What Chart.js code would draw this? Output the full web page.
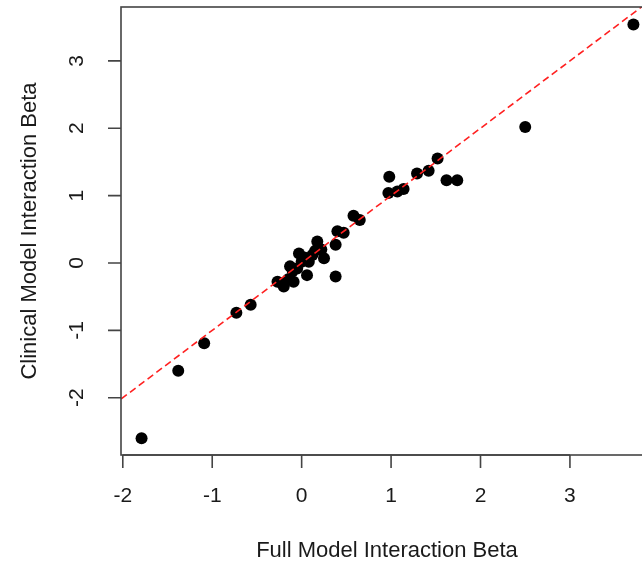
<!DOCTYPE html>
<html>
<head>
<meta charset="utf-8">
<script src="https://cdn.jsdelivr.net/npm/chart.js@4/dist/chart.umd.min.js"></script>
<style>
html, body { margin: 0; padding: 0; overflow: hidden; background: #fff; }
canvas { display: block; }
</style>
</head>
<body>
<canvas id="beta_chart" width="660" height="569"></canvas>
<script>
// Values
var fullBeta     = [-1.79, -1.38, -1.09, -0.73, -0.57, -0.27, -0.20, -0.22, -0.09, -0.13, -0.10, -0.15, -0.03, 0.00, -0.05, 0.06, 0.08, 0.03, 0.12, 0.175, 0.15, 0.25, 0.22, 0.38, 0.38, 0.40, 0.47, 0.58, 0.65, 0.97, 1.07, 1.14, 0.98, 1.29, 1.42, 1.52, 1.62, 1.74, 2.50, 3.71];
var clinicalBeta = [-2.60, -1.60, -1.19, -0.74, -0.62, -0.28, -0.35, -0.30, -0.28, -0.05, -0.12, -0.24, 0.14, 0.02, -0.08, -0.18, 0.02, 0.08, 0.12, 0.32, 0.18, 0.07, 0.20, -0.20, 0.27, 0.47, 0.45, 0.70, 0.64, 1.04, 1.06, 1.10, 1.28, 1.33, 1.37, 1.55, 1.23, 1.23, 2.02, 3.54];
var xTicks = [-2, -1, 0, 1, 2, 3];
var yTicks = [-2, -1, 0, 1, 2, 3];
var identityLine = [-3, 5];   // y = x reference line, clipped to the plot box

var FONT = '"Liberation Sans", Arial, sans-serif';

var points = fullBeta.map(function( x, i ) { return { x: x, y: clinicalBeta[i] }; });

// R-style box, tick marks and axis texts
var baseAxes = {
	id: 'baseAxes',
	afterDraw: function( chart ) {
		var ctx = chart.ctx, area = chart.chartArea;
		var sx = chart.scales.x, sy = chart.scales.y;
		var tick = 13;
		ctx.save();
		ctx.strokeStyle = '#444';
		ctx.lineWidth = 1.6;
		ctx.strokeRect( area.left, area.top, area.right - area.left, area.bottom - area.top );

		ctx.fillStyle = '#1a1a1a';
		ctx.font = '21px ' + FONT;
		ctx.textAlign = 'center';
		ctx.textBaseline = 'middle';

		// x axis
		ctx.beginPath();
		ctx.moveTo( sx.getPixelForValue( xTicks[0] ), area.bottom );
		ctx.lineTo( sx.getPixelForValue( xTicks[xTicks.length - 1] ), area.bottom );
		xTicks.forEach( function( v ) {
			var px = sx.getPixelForValue( v );
			ctx.moveTo( px, area.bottom );
			ctx.lineTo( px, area.bottom + tick );
		} );
		ctx.stroke();
		xTicks.forEach( function( v ) {
			ctx.fillText( String( v ), sx.getPixelForValue( v ), 496 );
		} );

		// y axis
		ctx.beginPath();
		yTicks.forEach( function( v ) {
			var py = sy.getPixelForValue( v );
			ctx.moveTo( area.left, py );
			ctx.lineTo( area.left - tick, py );
		} );
		ctx.stroke();
		yTicks.forEach( function( v ) {
			ctx.save();
			ctx.translate( 77, sy.getPixelForValue( v ) );
			ctx.rotate( -Math.PI / 2 );
			ctx.fillText( String( v ), 0, 0 );
			ctx.restore();
		} );

		// titles
		ctx.font = '22px ' + FONT;
		ctx.fillText( 'Full Model Interaction Beta', 387, 551 );
		ctx.save();
		ctx.translate( 30, 231 );
		ctx.rotate( -Math.PI / 2 );
		ctx.fillText( 'Clinical Model Interaction Beta', 0, 0 );
		ctx.restore();
		ctx.restore();
	}
};

new Chart( document.getElementById( 'beta_chart' ), {
	type: 'scatter',
	data: {
		datasets: [
			{
				type: 'line',
				data: identityLine.map( function( v ) { return { x: v, y: v }; } ),
				borderColor: '#ff2020',
				borderWidth: 1.6,
				borderDash: [7, 4],
				pointRadius: 0,
				fill: false
			},
			{
				data: points,
				backgroundColor: '#000',
				borderColor: '#000',
				borderWidth: 0,
				pointRadius: 6
			}
		]
	},
	options: {
		responsive: false,
		animation: false,
		layout: { padding: { left: 121, top: 7, right: 4, bottom: 114 } },
		scales: {
			x: { type: 'linear', display: false, min: -2.02, max: 3.94 },
			y: { type: 'linear', display: false, min: -2.85, max: 3.80 }
		},
		plugins: {
			legend: { display: false },
			tooltip: { enabled: false }
		}
	},
	plugins: [ baseAxes ]
} );
</script>
</body>
</html>
